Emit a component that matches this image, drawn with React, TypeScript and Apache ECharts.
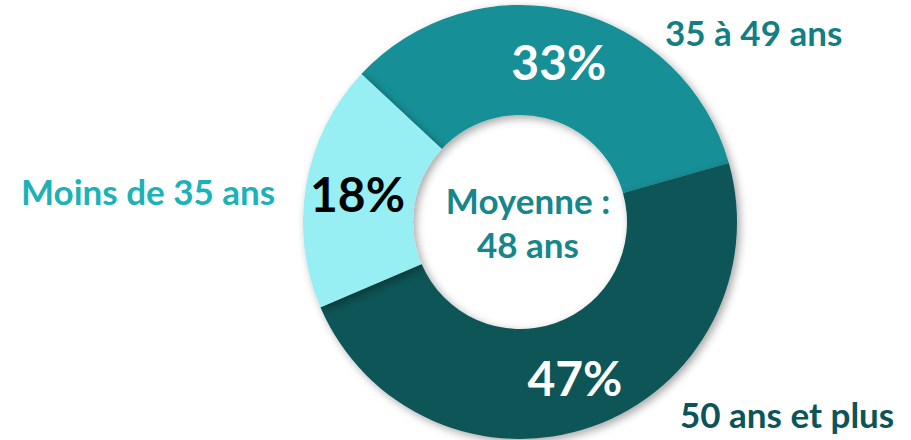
import React, { useEffect, useRef } from "react";
import * as echarts from "echarts";

const categories = ["35 à 49 ans", "50 ans et plus", "Moins de 35 ans"];
const values = [33, 47, 18];
const sliceColors = ["#128F96", "#0B5457", "#97EEF3"];
const labelColors = ["#FFFFFF", "#FFFFFF", "#000000"];
const categoryTextColors = ["#137F84", "#0B5457", "#1DB1B8"];
const centerLines = ["Moyenne :", "48 ans"];

const FONT = "Lato, 'Open Sans', sans-serif";

export default function App() {
  const ref = useRef<HTMLDivElement>(null);
  useEffect(() => {
    if (!ref.current) return;
    const chart = echarts.init(ref.current, null, { renderer: "svg" });
    const catPos = [
      { x: 665, y: 32, align: "left" },
      { x: 680, y: 414, align: "left" },
      { x: 21, y: 191, align: "left" },
    ];
    chart.setOption({
      animation: false,
      backgroundColor: "#FFFFFF",
      series: [
        {
          type: "pie",
          center: [520, 222],
          radius: [107, 217],
          startAngle: 137,
          clockwise: true,
          avoidLabelOverlap: false,
          label: {
            show: true,
            position: "inside",
            formatter: "{c}%",
            fontFamily: FONT,
            fontWeight: "bold",
            fontSize: 48,
          },
          labelLine: { show: false },
          itemStyle: {
            borderWidth: 0,
            shadowBlur: 8,
            shadowOffsetX: 3,
            shadowOffsetY: 3,
            shadowColor: "rgba(0,0,0,0.35)",
          },
          emphasis: { disabled: true },
          data: categories.map((name, i) => ({
            name,
            value: values[i],
            itemStyle: { color: sliceColors[i] },
            label: { color: labelColors[i] },
          })),
        },
      ],
      graphic: [
        ...categories.map((name, i) => ({
          type: "text",
          x: catPos[i].x,
          y: catPos[i].y,
          style: {
            text: name,
            fill: categoryTextColors[i],
            font: `bold 35px ${FONT}`,
            textAlign: catPos[i].align,
            textVerticalAlign: "middle",
          },
        })),
        ...centerLines.map((t, i) => ({
          type: "text",
          x: 528,
          y: 200 + i * 44,
          style: {
            text: t,
            fill: "#15868B",
            font: `bold 35px ${FONT}`,
            textAlign: "center",
            textVerticalAlign: "middle",
          },
        })),
      ],
    });
    return () => chart.dispose();
  }, []);
  return (
    <div
      ref={ref}
      style={{ position: "fixed", left: 0, top: 0, width: 911, height: 440 }}
    />
  );
}
